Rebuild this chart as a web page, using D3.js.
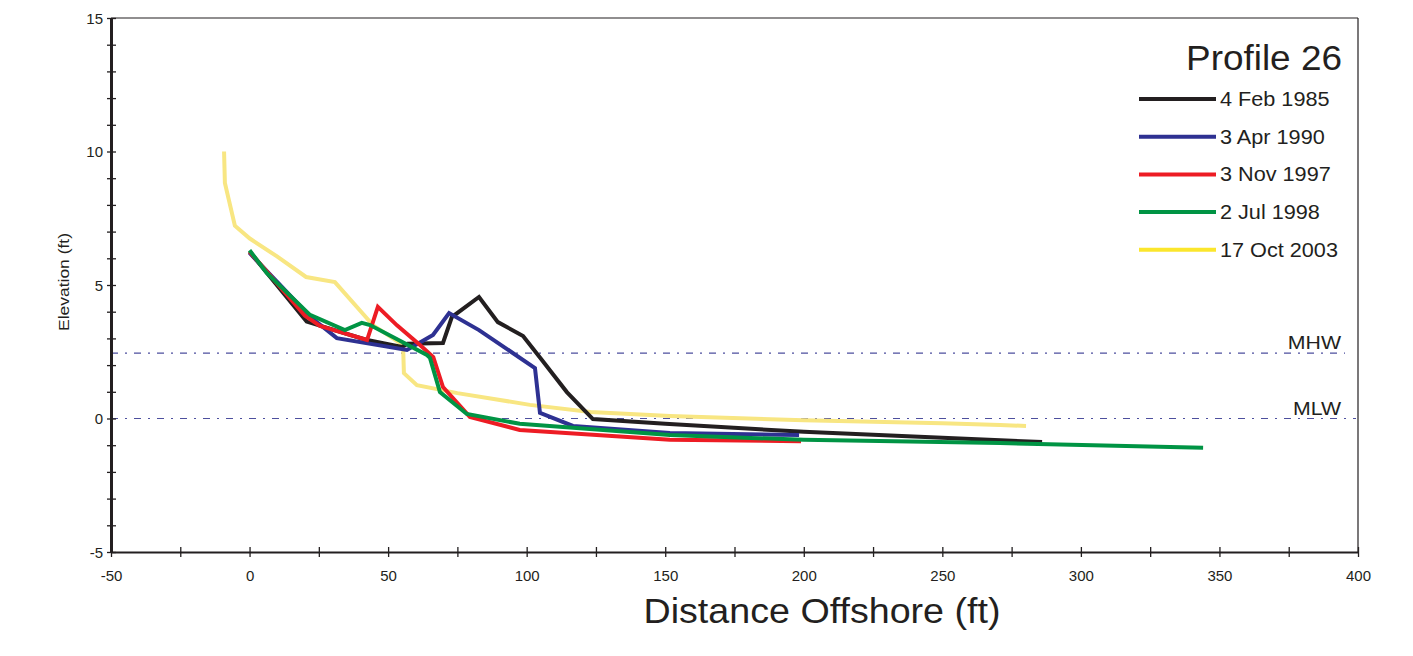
<!DOCTYPE html>
<html>
<head>
<meta charset="utf-8">
<script src="https://cdn.jsdelivr.net/npm/d3@7"></script>
<style>
  html, body { margin: 0; padding: 0; background: #fff; }
  svg { display: block; font-family: "Liberation Sans", Arial, sans-serif; }
</style>
</head>
<body>
<svg id="chart" width="1413" height="656"></svg>
<script>
// Beach profile survey lines: distance offshore (ft) vs elevation (ft)
const seriesNames = ["4 Feb 1985", "3 Apr 1990", "3 Nov 1997", "2 Jul 1998", "17 Oct 2003"];
const seriesColors = ["#231f20", "#2e3192", "#ed1c24", "#009444", "#f8e682"];
const legendColors = ["#231f20", "#2e3192", "#ed1c24", "#009444", "#fbe62c"];

const feb1985 = [
  [0, 6.25], [20.6, 3.63], [42, 2.95], [55, 2.68], [57, 2.8], [69.8, 2.83], [73, 3.8],
  [82.8, 4.55], [89.6, 3.61], [98.7, 3.09], [105.5, 2.19], [114.5, 0.99], [123.9, -0.02],
  [150, -0.2], [200, -0.5], [250, -0.72], [286, -0.88]
];
const apr1990 = [
  [0, 6.2], [11, 5.0], [22, 3.8], [31.5, 3.01], [56.8, 2.57], [66.2, 3.13], [72, 3.95],
  [82.8, 3.31], [103, 1.89], [104.8, 0.21], [116.7, -0.28], [151.7, -0.54], [198.3, -0.62]
];
const nov1997 = [
  [0, 6.25], [20, 3.85], [25.4, 3.47], [42.4, 2.94], [46.3, 4.18], [53.2, 3.49],
  [61.5, 2.75], [66.3, 2.3], [69.8, 1.18], [79.5, 0.06], [97.5, -0.43], [151.7, -0.8],
  [199, -0.85]
];
const jul1998 = [
  [0, 6.3], [6.2, 5.45], [21.8, 3.88], [34.4, 3.31], [40.5, 3.58], [43.5, 3.5],
  [64, 2.38], [65.1, 2.27], [68.7, 0.99], [78.4, 0.17], [97.5, -0.2], [151.7, -0.62],
  [200, -0.8], [270.8, -0.92], [344.1, -1.1]
];
const oct2003 = [
  [-9.2, 10.0], [-8.9, 8.82], [-5.3, 7.22], [0.1, 6.74], [9.9, 6.07], [20.4, 5.3],
  [30.8, 5.11], [44.5, 3.5], [55.4, 2.75], [55.7, 1.7], [60.4, 1.25], [75, 0.95],
  [101.2, 0.51], [123, 0.24], [151.7, 0.09], [200, -0.07], [250, -0.18], [270.8, -0.24],
  [280.2, -0.28]
];
const seriesData = [feb1985, apr1990, nov1997, jul1998, oct2003];

const xTickLabels = [-50, 0, 50, 100, 150, 200, 250, 300, 350, 400];
const yTickLabels = [-5, 0, 5, 10, 15];
const tideLevels = [["MHW", 2.45], ["MLW", 0]];

const svg = d3.select("#chart");
const plot = { left: 111, right: 1358, top: 18, bottom: 552 };

const x = d3.scaleLinear().domain([-50, 400]).range([plot.left, plot.right]);
const y = d3.scaleLinear().domain([-5, 15]).range([plot.bottom, plot.top]);

// Stretch a text element horizontally by a factor (the lettering is slightly wide)
function widen(sel, k) {
  sel.each(function () {
    const w = this.getComputedTextLength();
    d3.select(this).attr("textLength", w * k).attr("lengthAdjust", "spacingAndGlyphs");
  });
}

// Frame: thin top and right edges
svg.append("line").attr("x1", plot.left).attr("x2", plot.right)
  .attr("y1", plot.top).attr("y2", plot.top).attr("stroke", "#231f20").attr("stroke-width", 1.2);
svg.append("line").attr("x1", plot.right).attr("x2", plot.right)
  .attr("y1", plot.top).attr("y2", plot.bottom).attr("stroke", "#231f20").attr("stroke-width", 1.2);

// Tide reference lines (dash-dot)
tideLevels.forEach(([name, v]) => {
  svg.append("line")
    .attr("x1", plot.left).attr("x2", name === "MHW" ? 1345 : plot.right - 2)
    .attr("y1", y(v)).attr("y2", y(v))
    .attr("stroke", "#4d4f9e").attr("stroke-width", 1.1)
    .attr("stroke-dasharray", "7,7,2,7");
  svg.append("text")
    .attr("x", 1341).attr("y", y(v) - 4)
    .attr("text-anchor", "end")
    .attr("font-size", 19).attr("fill", "#231f20")
    .text(name)
    .call(widen, 1.12);
});

// Profile lines
const line = d3.line().x(d => x(d[0])).y(d => y(d[1]));
const order = [4, 0, 1, 2, 3];
order.forEach(i => {
  svg.append("path")
    .datum(seriesData[i])
    .attr("d", line)
    .attr("fill", "none")
    .attr("stroke", seriesColors[i])
    .attr("stroke-width", 4)
    .attr("stroke-linejoin", "miter")
    .attr("stroke-miterlimit", 4);
});

// Axes
const xAxis = svg.append("g").attr("transform", `translate(0,${plot.bottom})`)
  .call(d3.axisBottom(x).tickValues(d3.range(-50, 401, 25)).tickSize(0).tickFormat(""));
xAxis.select(".domain").attr("stroke", "#231f20").attr("stroke-width", 2);
xAxis.selectAll(".tick").append("line")
  .attr("y1", -5).attr("y2", 5).attr("stroke", "#231f20").attr("stroke-width", 1.3);
xAxis.selectAll(".tick").filter(d => xTickLabels.includes(d)).append("text")
  .attr("y", 29).attr("text-anchor", "middle").attr("font-size", 15)
  .attr("fill", "#231f20").text(d => d);

const yAxis = svg.append("g").attr("transform", `translate(${plot.left},0)`)
  .call(d3.axisLeft(y).tickValues(d3.range(-5, 15.01, 1)).tickSize(0).tickFormat(""));
yAxis.select(".domain").attr("stroke", "#231f20").attr("stroke-width", 3);
yAxis.selectAll(".tick").append("line")
  .attr("x1", -4).attr("x2", 5).attr("stroke", "#231f20").attr("stroke-width", 1.3);
yAxis.selectAll(".tick").filter(d => yTickLabels.includes(d)).append("text")
  .attr("x", -8).attr("dy", "0.35em").attr("text-anchor", "end").attr("font-size", 15)
  .attr("fill", "#231f20").text(d => d);

// Axis titles
svg.append("text")
  .attr("transform", `translate(69,${y(5) - 3}) rotate(-90)`)
  .attr("text-anchor", "middle").attr("font-size", 15).attr("fill", "#231f20")
  .attr("textLength", 98).attr("lengthAdjust", "spacingAndGlyphs")
  .text("Elevation (ft)");
svg.append("text")
  .attr("x", 822).attr("y", 623)
  .attr("text-anchor", "middle").attr("font-size", 35).attr("fill", "#231f20")
  .attr("textLength", 357).attr("lengthAdjust", "spacingAndGlyphs")
  .text("Distance Offshore (ft)");

// Title and legend
svg.append("text")
  .attr("x", 1342).attr("y", 70)
  .attr("text-anchor", "end").attr("font-size", 35).attr("fill", "#231f20")
  .attr("textLength", 156).attr("lengthAdjust", "spacingAndGlyphs")
  .text("Profile 26");

const legend = svg.append("g");
seriesNames.forEach((name, i) => {
  const ly = 99 + i * 37.7;
  legend.append("line")
    .attr("x1", 1139).attr("x2", 1216).attr("y1", ly).attr("y2", ly)
    .attr("stroke", legendColors[i]).attr("stroke-width", 4);
  legend.append("text")
    .attr("x", 1220).attr("y", ly).attr("dy", "0.35em")
    .attr("font-size", 19.5).attr("fill", "#231f20")
    .text(name)
    .call(widen, 1.11);
});
</script>
</body>
</html>
